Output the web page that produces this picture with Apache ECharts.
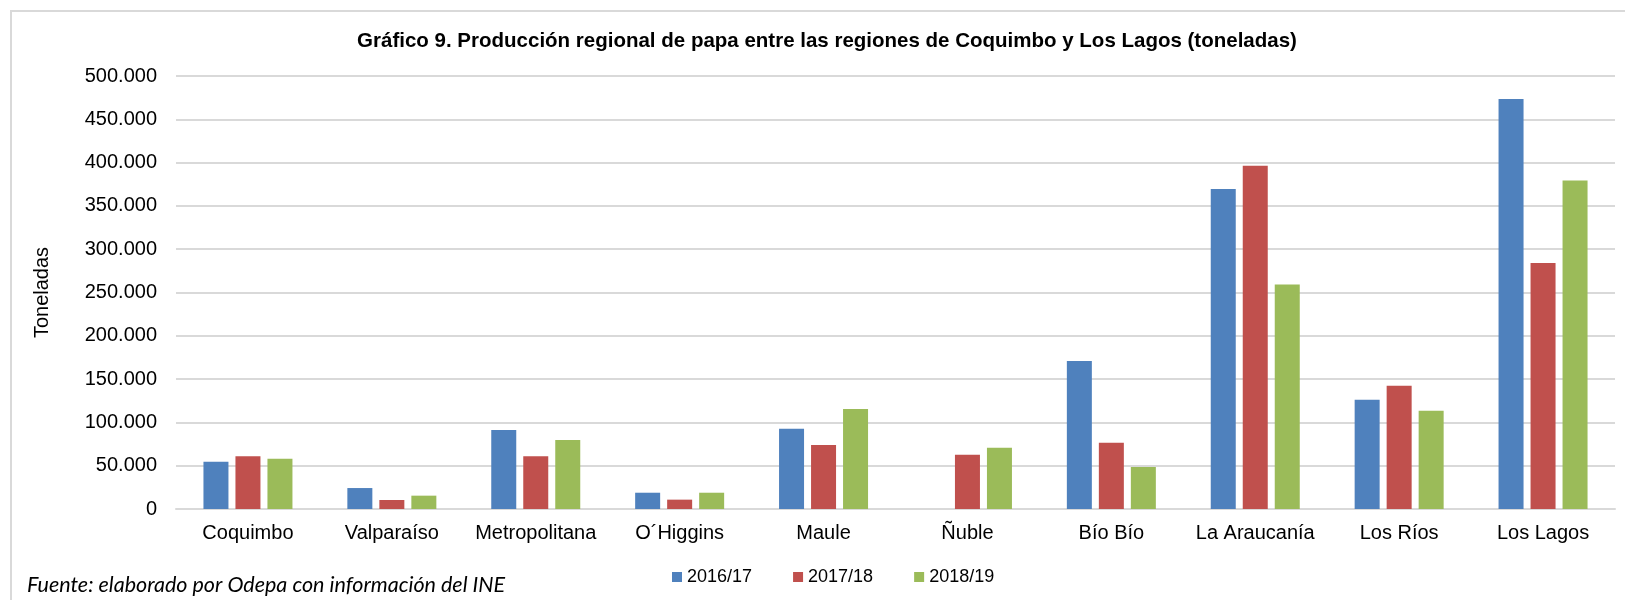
<!DOCTYPE html>
<html>
<head>
<meta charset="utf-8">
<script src="https://cdn.jsdelivr.net/npm/echarts@6/dist/echarts.min.js"></script>
<style>
  html, body { margin: 0; padding: 0; background: #fff; }
  #chart { width: 1625px; height: 600px; }
</style>
</head>
<body>
<div id="chart"></div>
<script>
  // datos (toneladas)
  var regiones = ["Coquimbo", "Valparaíso", "Metropolitana", "O´Higgins", "Maule",
    "Ñuble", "Bío Bío", "La Araucanía", "Los Ríos", "Los Lagos"];
  var temporadas = ["2016/17", "2017/18", "2018/19"];
  var t2016 = [54600, 24200, 91200, 18800, 92700, null, 170800, 369600, 126200, 473500];
  var t2017 = [60800, 10400, 60800, 10800, 73800, 62700, 76500, 396500, 142300, 284200];
  var t2018 = [58100, 15400, 79600, 18800, 115400, 70800, 48500, 259200, 113500, 379200];
  var colores = ["#4F81BD", "#C0504D", "#9BBB59"];

  var font = "Liberation Sans, Arial, sans-serif";
  var myChart = echarts.init(document.getElementById("chart"));

  function miles(v) {
    return String(v).replace(/\B(?=(\d{3})+(?!\d))/g, ".");
  }

  var valores = [t2016, t2017, t2018];
  var series = [];
  for (var i = 0; i < temporadas.length; i++) {
    series.push({
      name: temporadas[i],
      type: "bar",
      barWidth: 25,
      barGap: "28%",
      itemStyle: { color: colores[i] },
      data: valores[i]
    });
  }

  var option = {
    backgroundColor: "#fff",
    animation: false,
    textStyle: { fontFamily: font },
    color: colores,
    grid: { left: 176, right: 10, top: 76, bottom: 91 },
    legend: {
      data: temporadas,
      left: 672,
      top: 568,
      padding: 0,
      icon: "rect",
      itemWidth: 10,
      itemHeight: 10,
      itemGap: 41,
      textStyle: { fontSize: 18, color: "#000", fontFamily: font }
    },
    xAxis: {
      type: "category",
      data: regiones,
      axisLine: { show: true, lineStyle: { color: "#d9d9d9", width: 2 } },
      axisTick: { show: false },
      axisLabel: { fontSize: 20, color: "#000", margin: 14, interval: 0 }
    },
    yAxis: {
      type: "value",
      min: 0,
      max: 500000,
      interval: 50000,
      name: "Toneladas",
      nameLocation: "middle",
      nameRotate: 90,
      nameGap: 124,
      nameTextStyle: { fontSize: 20, color: "#000" },
      axisLine: { show: false },
      axisTick: { show: false },
      splitLine: { lineStyle: { color: "#d9d9d9", width: 2 } },
      axisLabel: {
        fontSize: 20,
        color: "#000",
        margin: 19,
        formatter: function (v) { return miles(v); }
      }
    },
    graphic: [
      {
        type: "rect",
        shape: { x: 11, y: 11, width: 1640, height: 620 },
        style: { fill: null, stroke: "#d9d9d9", lineWidth: 2 },
        silent: true
      },
      {
        type: "text",
        x: 827,
        y: 41,
        style: {
          text: "Gráfico 9. Producción regional de papa entre las regiones de Coquimbo y Los Lagos (toneladas)",
          fontFamily: font,
          fontWeight: "bold",
          fontSize: 20.5,
          fill: "#000",
          align: "center",
          verticalAlign: "middle"
        }
      },
      {
        type: "text",
        x: 27,
        y: 585,
        style: {
          text: "Fuente: elaborado por Odepa con información del INE",
          fontFamily: "Lato, sans-serif",
          fontStyle: "italic",
          fontSize: 21.5,
          fill: "#000",
          align: "left",
          verticalAlign: "middle"
        }
      }
    ],
    series: series
  };
  myChart.setOption(option);

  window.addEventListener("resize", function () {
    myChart.resize();
  });
</script>
</body>
</html>
